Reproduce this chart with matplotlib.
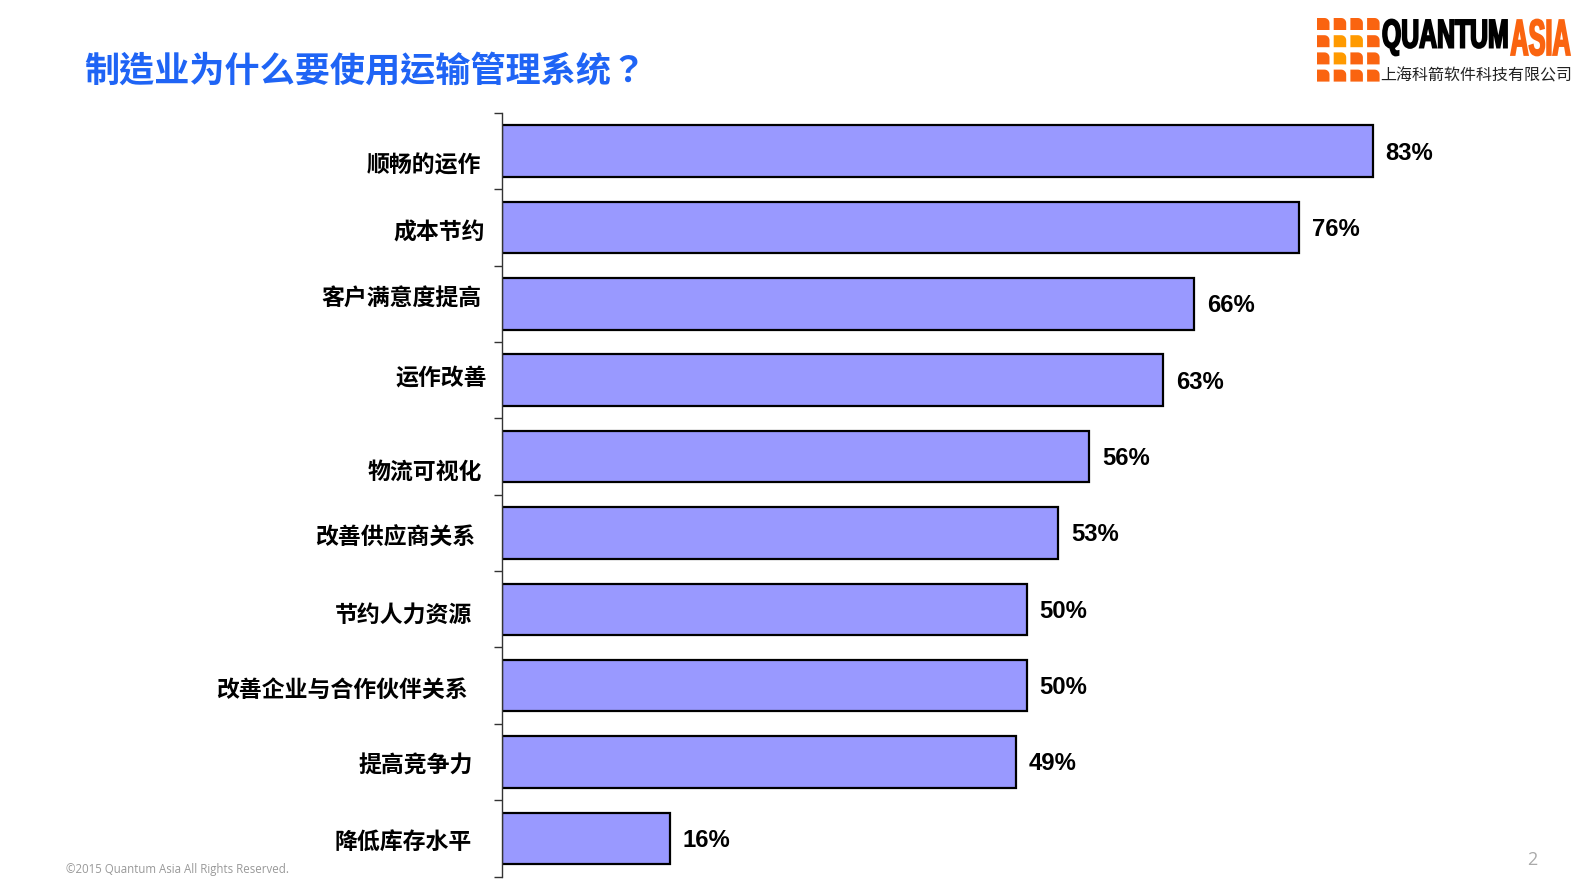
import numpy as np
import matplotlib
matplotlib.use("Agg")
import matplotlib.pyplot as plt
from matplotlib.patches import PathPatch
from matplotlib.path import Path
from matplotlib.textpath import TextPath
from matplotlib.font_manager import FontProperties
from matplotlib.transforms import Affine2D

plt.rcParams['font.family'] = ['Noto Sans CJK SC', 'DejaVu Sans']

# 数据
categories = ['顺畅的运作', '成本节约', '客户满意度提高', '运作改善', '物流可视化',
              '改善供应商关系', '节约人力资源', '改善企业与合作伙伴关系', '提高竞争力', '降低库存水平']
values = [83, 76, 66, 63, 56, 53, 50, 50, 49, 16]
value_labels = ['83%', '76%', '66%', '63%', '56%', '53%', '50%', '50%', '49%', '16%']
title = '制造业为什么要使用运输管理系统？'

# 标签的手工偏移 (原幻灯片里文字框位置不齐)
label_dy = [0.17, 0.04, -0.10, -0.05, 0.18, 0.05, 0.05, 0.04, 0.03, 0.03]
label_gap = [21, 17, 20, 15, 20, 26, 30, 34, 29, 30]

W, H = 1587, 892
fig = plt.figure(figsize=(W / 100, H / 100), dpi=100)
fig.patch.set_facecolor('white')

ax = fig.add_axes([502 / W, (H - 876.5) / H, 1049 / W, 763.5 / H])
y = np.arange(len(categories))
ax.barh(y, values, height=0.675, color='#9999FF', edgecolor='black', linewidth=1.6)
ax.set_xlim(0, 100)
ax.set_ylim(len(categories) - 0.5, -0.5)
for s in ['top', 'right', 'bottom']:
    ax.spines[s].set_visible(False)
ax.spines['left'].set_linewidth(1.0)
ax.spines['left'].set_color('#333333')
ax.set_xticks([])
ax.set_yticks(np.arange(-0.5, len(categories), 1))
ax.set_yticklabels([])
ax.tick_params(axis='y', direction='out', length=6, width=1.0, color='#333333')

for i, (c, v, lab) in enumerate(zip(categories, values, value_labels)):
    ax.annotate(c, xy=(0, i + label_dy[i]), xytext=(-label_gap[i] * 1.012, -2),
                textcoords='offset pixels', ha='right', va='center',
                fontsize=16.5, fontweight='bold', color='black')
    ax.annotate(lab, xy=(v, i), xytext=(13, -2), textcoords='offset pixels',
                ha='left', va='center', fontsize=17.2, fontweight='bold',
                family=['Liberation Sans', 'DejaVu Sans'], color='black')

# 标题 (TC 字体里全角问号居中)
fig.text(84 / W, 1 - 71 / H, title, fontsize=25.3, fontweight='bold', color='#1f64f5',
         ha='left', va='center', family=['Noto Sans CJK TC', 'DejaVu Sans'])

# logo: 用一个像素坐标的透明 axes 来画
lax = fig.add_axes([0, 0, 1, 1], zorder=-1)
lax.set_xlim(0, W)
lax.set_ylim(H, 0)
lax.axis('off')


def flag_square(x0, y0, w, h, r):
    # 右上角圆角的小方块
    t = np.linspace(-np.pi / 2, 0, 8)
    pts = [(x0, y0 + h), (x0, y0), (x0 + w - r, y0)]
    pts += [(x0 + w - r + r * np.cos(a), y0 + r + r * np.sin(a)) for a in t]
    pts += [(x0 + w, y0 + h), (x0, y0 + h)]
    return Path(pts, closed=True)


light = [(1, 1), (1, 2), (2, 1)]
for r in range(4):
    for c in range(4):
        col = '#FF9A00' if (r, c) in light else '#FA6410'
        p = flag_square(1317 + c * 16.7, 18 + r * 17.2, 12.5, 12, 5)
        lax.add_patch(PathPatch(p, facecolor=col, edgecolor='none'))


def squeeze_text(s, x0, x1, ytop, ybot, color):
    tp = TextPath((0, 0), s, size=50, prop=FontProperties(family='Liberation Sans', weight='bold'))
    ext = tp.get_extents()
    sx = (x1 - x0) / ext.width
    sy = (ybot - ytop) / ext.height
    tr = Affine2D().translate(-ext.x0, -ext.y0).scale(sx, -sy).translate(x0, ybot)
    lax.add_patch(PathPatch(tr.transform_path(tp), facecolor=color, edgecolor=color,
                            linewidth=1.3))


squeeze_text('QUANTUM', 1383, 1507, 19.5, 55.5, 'black')
squeeze_text('ASIA', 1511, 1570, 19.5, 55.5, '#FA6410')
fig.text(1380 / W, 1 - 76 / H, '上海科箭软件科技有限公司', fontsize=11.5, color='#222222',
         ha='left', va='center')

# 页脚
fig.text(66 / W, 1 - 869 / H, '©2015 Quantum Asia All Rights Reserved.', fontsize=8.3,
         color='#999999', family=['Open Sans', 'DejaVu Sans'], ha='left', va='center')
fig.text(1532 / W, 1 - 860 / H, '2', fontsize=13, color='#aaaaaa',
         family=['Open Sans', 'DejaVu Sans'], ha='center', va='center')

fig.savefig('out.png', dpi=100, facecolor='white')
